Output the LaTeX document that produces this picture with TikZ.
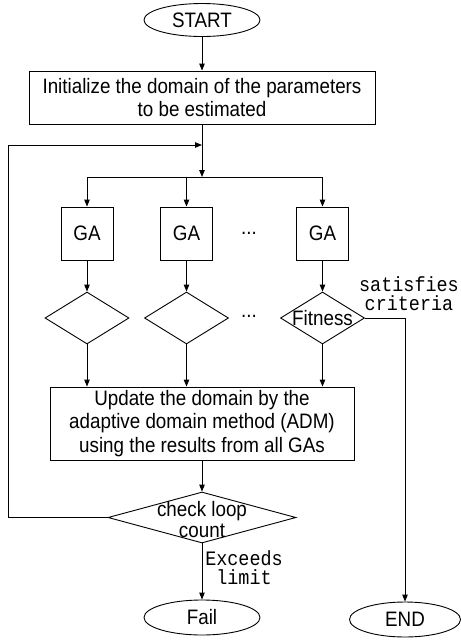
\documentclass[tikz,border=0pt]{standalone}
\usepackage{fontspec}
\setmainfont{Liberation Sans}[FakeStretch=0.9]
\newfontfamily\labelmono{Liberation Mono}[FakeStretch=0.9]
\usetikzlibrary{shapes.geometric,arrows.meta}
\tikzset{
  base/.style={draw, line width=0.9pt, font=\fontsize{20.9}{23.5}\selectfont, inner sep=0pt, align=center},
  oval/.style={base, ellipse},
  stepbox/.style={base, rectangle},
  decision/.style={base, diamond},
  lbl/.style={font=\labelmono\fontsize{20.5}{19}\selectfont, align=center, inner sep=0pt},
  arr/.style={line width=0.9pt, -{Triangle[length=7pt,width=5.5pt]}},
  ln/.style={line width=0.9pt}
}
\begin{document}
\begin{tikzpicture}[x=1pt, y=-1pt]
\useasboundingbox (0,0) rectangle (461,641);
\node[oval, minimum width=116pt, minimum height=33pt] (start) at (202,20) {START};
\node[stepbox, minimum width=346pt, minimum height=53pt] (init) at (202,97.5) {Initialize the domain of the parameters\\to be estimated};
\coordinate (j) at (202,177);
\coordinate (back) at (202,145);
\node[stepbox, minimum width=52pt, minimum height=53pt] (ga1) at (87,233.5) {GA};
\node[stepbox, minimum width=52pt, minimum height=53pt] (ga2) at (186.5,233.5) {GA};
\node[stepbox, minimum width=52pt, minimum height=53pt] (ga3) at (322.5,233.5) {GA};
\node[font=\fontsize{20.9}{23}\selectfont, inner sep=0pt] (dotsa) at (249,233.5) {...};
\node[decision, minimum width=84pt, minimum height=52pt] (d1) at (87,318) {};
\node[decision, minimum width=84pt, minimum height=52pt] (d2) at (186.5,318) {};
\node[decision, minimum width=84pt, minimum height=52pt, label={[font=\fontsize{20.9}{23}\selectfont, inner sep=0pt]center:Fitness}] (d3) at (322.5,318) {};
\node[font=\fontsize{20.9}{23}\selectfont, inner sep=0pt] (dotsb) at (249,316) {...};
\node[stepbox, minimum width=304pt, minimum height=73pt] (upd) at (202,423.5) {Update the domain by the\\adaptive domain method (ADM)\\using the results from all GAs};
\node[decision, minimum width=188pt, minimum height=51pt] (loop) at (202,517.5) {};
\node[font=\fontsize{20.9}{21}\selectfont, align=center, inner sep=0pt] (looptxt) at (202,520) {check loop\\count};
\node[oval, minimum width=116pt, minimum height=35pt] (fail) at (202,617.5) {Fail};
\node[oval, minimum width=111pt, minimum height=35pt] (end) at (405,619.5) {END};
\node[lbl] (sat) at (409,294) {satisfies\\criteria};
\node[lbl] (exc) at (244,568) {Exceeds\\limit};
\coordinate (lc) at (8,145);
\draw[arr] (start) -- (init);
\draw[arr] (init) -- (j);
\draw[arr] (j) -| (ga1);
\draw[arr] (j) -| (ga2);
\draw[arr] (j) -| (ga3);
\draw[arr] (ga1) -- (d1);
\draw[arr] (ga2) -- (d2);
\draw[arr] (ga3) -- (d3);
\draw[arr] (d1.south) -- (d1.south |- upd.north);
\draw[arr] (d2.south) -- (d2.south |- upd.north);
\draw[arr] (d3.south) -- (d3.south |- upd.north);
\draw[arr] (d3.east) -| (end.north);
\draw[arr] (upd) -- (loop);
\draw[arr] (loop.west) -| (lc) -- (back);
\draw[arr] (loop.south) -- (fail);
\end{tikzpicture}
\end{document}
